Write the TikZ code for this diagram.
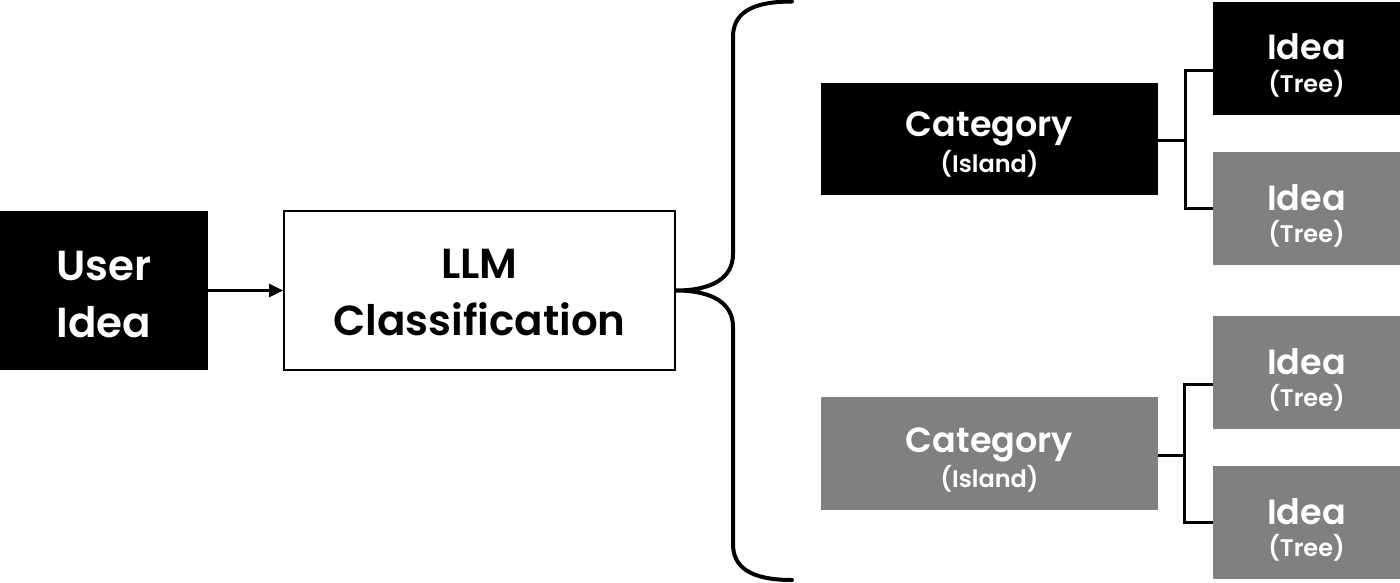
\documentclass[tikz,border=0pt]{standalone}
\usepackage{fontspec}
\setmainfont{Poppins SemiBold}
\usetikzlibrary{arrows.meta}
\definecolor{boxgray}{RGB}{128,128,128}
\tikzset{
  x=1pt,y=-1pt,
  blk/.style={rectangle,inner sep=0pt,fill=black,draw=none},
  gry/.style={rectangle,inner sep=0pt,fill=boxgray,draw=none},
  catbox/.style={minimum width=337pt,minimum height=112pt},
  ideabox/.style={minimum width=187pt,minimum height=113pt},
  bigtxt/.style={anchor=base,inner sep=0pt,font=\fontsize{42}{46}\selectfont},
  cattxt/.style={anchor=base,inner sep=0pt,text=white,font=\fontsize{35}{40}\selectfont},
  subtxt/.style={anchor=base,inner sep=0pt,text=white,font=\fontsize{24}{28}\selectfont},
  conn/.style={line width=3pt},
  brace/.style={line width=4pt,line cap=round},
}
\begin{document}
\begin{tikzpicture}
\useasboundingbox (0,0) rectangle (1400,583);
% left
\node[blk,minimum width=208pt,minimum height=159pt] (user) at (104,290.5) {};
\node[bigtxt,text=white] (usert1) at (104,280) {User};
\node[bigtxt,text=white] (usert2) at (104,337) {Idea};
\node[rectangle,inner sep=0pt,draw=black,line width=2pt,fill=white,minimum width=391pt,minimum height=159pt] (llm) at (479.5,290.5) {};
\node[bigtxt] (llmt1) at (479.5,278) {LLM};
\node[bigtxt] (llmt2) at (479.5,335) {Classification};
\draw[line width=3pt,-{Triangle[length=14pt,width=13pt]}] (user.east) -- (llm.west);
% brace
\coordinate (btop) at (792,1.5);
\coordinate (bbot) at (792,580);
\draw[brace] (btop) .. controls (750,1.5) and (733,14) .. (733,37) -- (733,254)
  .. controls (733,278) and (712,290.5) .. (llm.east)
  .. controls (712,290.5) and (733,303) .. (733,327) -- (733,544)
  .. controls (733,567) and (750,580) .. (bbot);
% categories
\node[blk,catbox] (cat1) at (989.5,139) {};
\node[cattxt] (cat1t) at (989.5,137) {Category};
\node[subtxt] (cat1s) at (989.5,172) {(Island)};
\node[gry,catbox,minimum height=113pt] (cat2) at (989.5,453.5) {};
\node[cattxt] (cat2t) at (989.5,452) {Category};
\node[subtxt] (cat2s) at (989.5,487) {(Island)};
% ideas
\node[blk,ideabox] (idea1) at (1306.5,58.5) {};
\node[gry,ideabox] (idea2) at (1306.5,208.5) {};
\node[gry,ideabox] (idea3) at (1306.5,372.5) {};
\node[gry,ideabox] (idea4) at (1306.5,522.5) {};
\foreach \n in {1,2,3,4}{
  \node[cattxt] (idea\n t) at ([yshift=-1.5pt]idea\n.center) {Idea};
  \node[subtxt] (idea\n s) at ([yshift=-34pt]idea\n.center) {(Tree)};
}
% connectors
\coordinate (j1) at (1185,141);
\coordinate (j2) at (1184,455);
\draw[conn] (cat1.east |- j1) -- (j1);
\draw[conn] ([yshift=-12pt]idea1.west) -| (j1) |- (idea2.west);
\draw[conn] (cat2.east |- j2) -- (j2);
\draw[conn] ([yshift=-12pt]idea3.west) -| (j2) |- (idea4.west);
\end{tikzpicture}
\end{document}
